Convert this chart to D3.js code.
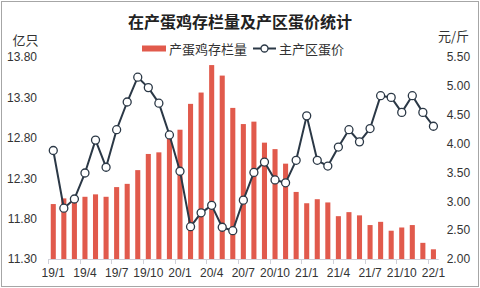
<!DOCTYPE html>
<html>
<head>
  <meta charset="utf-8">
  <title>在产蛋鸡存栏量及产区蛋价统计</title>
  <script src="https://d3js.org/d3.v7.min.js"></script>
  <style>
    body { margin: 0; background: #fff; }
    svg text { font-family: "Liberation Sans", Arial, sans-serif; fill: #333; }
    .cjk { font-family: "Noto Sans CJK SC", sans-serif; }
  </style>
</head>
<body>
<div id="chart"></div>
<script>

const width = 480;
const height = 288;

// months, 19/1 .. 22/1
const months = [
  "19/1","19/2","19/3","19/4","19/5","19/6","19/7","19/8","19/9","19/10","19/11","19/12",
  "20/1","20/2","20/3","20/4","20/5","20/6","20/7","20/8","20/9","20/10","20/11","20/12",
  "21/1","21/2","21/3","21/4","21/5","21/6","21/7","21/8","21/9","21/10","21/11","21/12",
  "22/1"
];

// 在产蛋鸡存栏量 (亿只)
const stock = [
  11.98, 12.05, 12.01, 12.07, 12.10, 12.07, 12.19, 12.23, 12.40, 12.60, 12.62, 12.79,
  12.90, 13.22, 13.36, 13.70, 13.57, 13.17, 12.97, 13.00, 12.74, 12.66, 12.48, 12.13,
  11.99, 12.04, 12.00, 11.83, 11.88, 11.84, 11.72, 11.76, 11.65, 11.69, 11.72, 11.50,
  11.42
];

// 主产区蛋价 (元/斤)
const price = [
  3.88, 2.88, 3.04, 3.49, 4.06, 3.59, 4.24, 4.72, 5.15, 4.97, 4.70, 4.15,
  3.52, 2.56, 2.80, 2.93, 2.55, 2.49, 3.02, 3.50, 3.68, 3.37, 3.32, 3.71,
  4.48, 3.71, 3.61, 3.94, 4.24, 4.03, 4.26, 4.83, 4.80, 4.54, 4.83, 4.54,
  4.30
];

const leftTicks = [11.30, 11.80, 12.30, 12.80, 13.30, 13.80];
const rightTicks = [2.00, 2.50, 3.00, 3.50, 4.00, 4.50, 5.00, 5.50];
const xLabels = months.filter((m, i) => i % 3 === 0);

const barColor = "#e15a4c";
const lineColor = "#2b3846";

const plot = {left: 48, right: 438.7, top: 57, bottom: 259};

const x = d3.scaleBand().domain(months).range([plot.left, plot.right]).padding(0);
const yL = d3.scaleLinear().domain([11.3, 13.8]).range([plot.bottom, plot.top]);
const yR = d3.scaleLinear().domain([2, 5.5]).range([plot.bottom, plot.top]);

const svg = d3.select("#chart").append("svg")
    .attr("width", width)
    .attr("height", height);

// outer frame
svg.append("rect")
  .attr("x", 1.5).attr("y", 1.5)
  .attr("width", width - 3).attr("height", height - 3)
  .attr("fill", "#fff")
  .attr("stroke", "#a6a6a6");

// title
svg.append("text")
  .attr("class", "cjk")
  .attr("x", 240).attr("y", 21)
  .attr("text-anchor", "middle")
  .attr("dominant-baseline", "central")
  .style("font-size", "16px")
  .style("font-weight", "bold")
  .style("fill", "#222")
  .text("在产蛋鸡存栏量及产区蛋价统计");

// unit labels
svg.append("text").attr("class", "cjk")
  .attr("x", 25.5).attr("y", 39)
  .attr("text-anchor", "middle").attr("dominant-baseline", "central")
  .style("font-size", "13px")
  .text("亿只");
svg.append("text").attr("class", "cjk")
  .attr("x", 453.5).attr("y", 35)
  .attr("text-anchor", "middle").attr("dominant-baseline", "central")
  .style("font-size", "13px")
  .text("元/斤");

// legend
const legend = svg.append("g");
legend.append("rect")
  .attr("x", 142).attr("y", 45.5).attr("width", 24).attr("height", 6)
  .attr("fill", barColor);
legend.append("text").attr("class", "cjk")
  .attr("x", 169).attr("y", 48.5).attr("dominant-baseline", "central")
  .style("font-size", "13px")
  .text("产蛋鸡存栏量");
legend.append("line")
  .attr("x1", 253).attr("x2", 276).attr("y1", 48.5).attr("y2", 48.5)
  .attr("stroke", lineColor).attr("stroke-width", 2);
legend.append("circle")
  .attr("cx", 264.5).attr("cy", 48.5).attr("r", 3.5)
  .attr("fill", "#fff").attr("stroke", lineColor).attr("stroke-width", 1.3);
legend.append("text").attr("class", "cjk")
  .attr("x", 279).attr("y", 48.5).attr("dominant-baseline", "central")
  .style("font-size", "13px")
  .text("主产区蛋价");

// bars
const bw = x.bandwidth();
svg.append("g")
  .selectAll("rect")
  .data(stock)
  .join("rect")
  .attr("x", (d, i) => x(months[i]) + bw * 0.26)
  .attr("width", bw * 0.48)
  .attr("y", d => yL(d))
  .attr("height", d => plot.bottom - yL(d))
  .attr("fill", barColor);

// x axis line and ticks at category boundaries
svg.append("line")
  .attr("x1", plot.left).attr("x2", plot.right)
  .attr("y1", plot.bottom + 0.5).attr("y2", plot.bottom + 0.5)
  .attr("stroke", "#d0d0d8");
svg.append("g")
  .selectAll("line")
  .data(xLabels)
  .join("line")
  .attr("x1", d => Math.round(x(d)) + 0.5)
  .attr("x2", d => Math.round(x(d)) + 0.5)
  .attr("y1", plot.bottom)
  .attr("y2", plot.bottom + 5)
  .attr("stroke", "#d0d0d8");

const xAxis = svg.append("g")
  .attr("transform", `translate(0,${plot.bottom})`)
  .call(d3.axisBottom(x).tickValues(xLabels).tickSize(0).tickPadding(9));
xAxis.select(".domain").remove();
xAxis.selectAll("text").style("font-size", "12px").style("fill", "#333");

// left axis
const leftAxis = svg.append("g")
  .attr("transform", `translate(${plot.left},0)`)
  .call(d3.axisLeft(yL).tickValues(leftTicks).tickFormat(d3.format(".2f")).tickSize(0).tickPadding(11));
leftAxis.select(".domain").remove();
leftAxis.selectAll("text").style("font-size", "12px").style("fill", "#333");

// right axis
const rightAxis = svg.append("g")
  .attr("transform", `translate(${plot.right},0)`)
  .call(d3.axisRight(yR).tickValues(rightTicks).tickFormat(d3.format(".2f")).tickSize(0).tickPadding(8));
rightAxis.select(".domain").remove();
rightAxis.selectAll("text").style("font-size", "12px").style("fill", "#333");

// price line
const line = d3.line()
  .x((d, i) => x(months[i]) + bw / 2)
  .y(d => yR(d));

svg.append("path")
  .datum(price)
  .attr("d", line)
  .attr("fill", "none")
  .attr("stroke", lineColor)
  .attr("stroke-width", 2)
  .attr("stroke-linejoin", "round");

svg.append("g")
  .selectAll("circle")
  .data(price)
  .join("circle")
  .attr("cx", (d, i) => x(months[i]) + bw / 2)
  .attr("cy", d => yR(d))
  .attr("r", 4)
  .attr("fill", "#fff")
  .attr("stroke", lineColor)
  .attr("stroke-width", 1.3);

</script>
</body>
</html>
